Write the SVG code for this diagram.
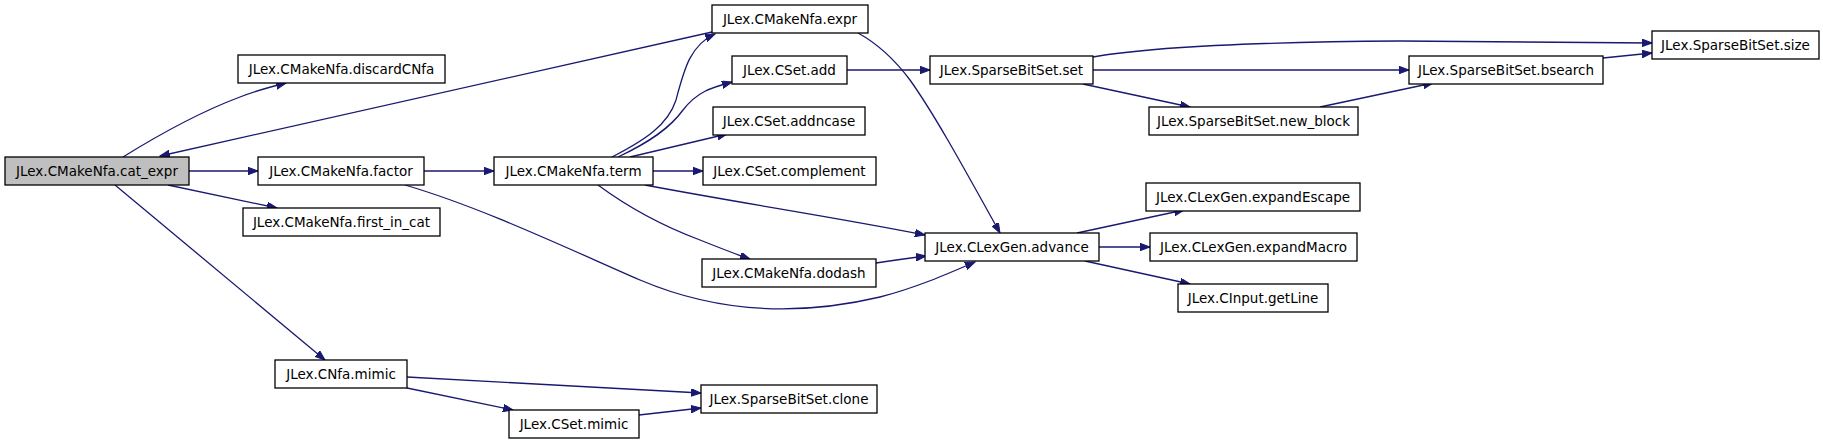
<svg xmlns="http://www.w3.org/2000/svg" width="1823" height="442" viewBox="0 0 1823 442">
<defs>
<marker id="ah" markerUnits="userSpaceOnUse" markerWidth="11" markerHeight="8" refX="10" refY="3.75" orient="auto">
<path d="M0,0 L10,3.75 L0,7.5 z" fill="#191970" stroke="#191970" stroke-width="1"/>
</marker>
</defs>
<style>
.n rect{fill:#ffffff;stroke:#000000;stroke-width:1.3}
.n text{font-family:"DejaVu Sans",sans-serif;font-size:13.5px;fill:#000000;text-anchor:middle}
#edges path{fill:none;stroke:#191970;stroke-width:1.3;marker-end:url(#ah)}
</style>
<rect width="1823" height="442" fill="#ffffff"/>
<g id="edges">
<path d="M123,157 C160,134 200,112 240,97 C255,91 270,87 286,83"/>
<path d="M712,32 L160,156"/>
<path d="M189,171 L258,171"/>
<path d="M168,185 L277,208"/>
<path d="M115,185 L325,360"/>
<path d="M424,171 L494,171"/>
<path d="M405,185 C480,207 560,245 640,280 C720,314 800,316 880,297 C915,288 945,275 975,262"/>
<path d="M612,157 C645,140 668,125 676,100 C684,70 690,45 715,34"/>
<path d="M618,157 C650,142 670,128 683,110 C697,92 710,88 732,82"/>
<path d="M630,157 L727,134"/>
<path d="M653,171 L703,171"/>
<path d="M598,185 C625,205 660,225 700,240 C720,248 735,254 750,259"/>
<path d="M645,185 C740,203 840,218 925,235"/>
<path d="M876,263 C895,260 910,258 926,256"/>
<path d="M858,33 C880,45 895,60 910,80 C935,115 965,170 1000,233"/>
<path d="M847,70 L930,70"/>
<path d="M1093,57 C1150,47 1250,42 1400,41 C1500,41 1580,42 1652,43"/>
<path d="M1093,70 L1409,70"/>
<path d="M1083,84 L1190,107"/>
<path d="M1320,107 L1433,83"/>
<path d="M1603,58 L1652,53"/>
<path d="M1077,233 L1184,210"/>
<path d="M1099,247 L1150,247"/>
<path d="M1085,261 L1190,284"/>
<path d="M407,377 L701,393"/>
<path d="M407,388 L513,410"/>
<path d="M639,415 L701,408"/>
</g>
<g id="cat_expr" class="n"><rect x="5" y="157" width="184" height="28" style="fill:#bfbfbf"/><text x="97" y="176">JLex.CMakeNfa.cat_expr</text></g>
<g id="discardCNfa" class="n"><rect x="238" y="55" width="207" height="28"/><text x="341.5" y="74">JLex.CMakeNfa.discardCNfa</text></g>
<g id="factor" class="n"><rect x="258" y="157" width="166" height="28"/><text x="341" y="176">JLex.CMakeNfa.factor</text></g>
<g id="first_in_cat" class="n"><rect x="243" y="208" width="197" height="28"/><text x="341.5" y="227">JLex.CMakeNfa.first_in_cat</text></g>
<g id="cnfa_mimic" class="n"><rect x="275" y="360" width="132" height="28"/><text x="341" y="379">JLex.CNfa.mimic</text></g>
<g id="expr" class="n"><rect x="712" y="5" width="156" height="28"/><text x="790" y="24">JLex.CMakeNfa.expr</text></g>
<g id="cset_add" class="n"><rect x="732" y="56" width="115" height="28"/><text x="789.5" y="75">JLex.CSet.add</text></g>
<g id="addncase" class="n"><rect x="713" y="107" width="152" height="28"/><text x="789" y="126">JLex.CSet.addncase</text></g>
<g id="complement" class="n"><rect x="703" y="157" width="173" height="28"/><text x="789.5" y="176">JLex.CSet.complement</text></g>
<g id="term" class="n"><rect x="494" y="157" width="159" height="28"/><text x="573.5" y="176">JLex.CMakeNfa.term</text></g>
<g id="dodash" class="n"><rect x="702" y="259" width="174" height="28"/><text x="789" y="278">JLex.CMakeNfa.dodash</text></g>
<g id="clone" class="n"><rect x="701" y="385" width="176" height="28"/><text x="789" y="404">JLex.SparseBitSet.clone</text></g>
<g id="cset_mimic" class="n"><rect x="509" y="410" width="130" height="28"/><text x="574" y="429">JLex.CSet.mimic</text></g>
<g id="set" class="n"><rect x="930" y="56" width="163" height="28"/><text x="1011.5" y="75">JLex.SparseBitSet.set</text></g>
<g id="new_block" class="n"><rect x="1149" y="107" width="209" height="28"/><text x="1253.5" y="126">JLex.SparseBitSet.new_block</text></g>
<g id="advance" class="n"><rect x="925" y="233" width="174" height="28"/><text x="1012" y="252">JLex.CLexGen.advance</text></g>
<g id="expandEscape" class="n"><rect x="1146" y="183" width="214" height="28"/><text x="1253" y="202">JLex.CLexGen.expandEscape</text></g>
<g id="expandMacro" class="n"><rect x="1150" y="233" width="207" height="28"/><text x="1253.5" y="252">JLex.CLexGen.expandMacro</text></g>
<g id="getLine" class="n"><rect x="1178" y="284" width="150" height="28"/><text x="1253" y="303">JLex.CInput.getLine</text></g>
<g id="size" class="n"><rect x="1652" y="31" width="167" height="28"/><text x="1735.5" y="50">JLex.SparseBitSet.size</text></g>
<g id="bsearch" class="n"><rect x="1409" y="56" width="194" height="28"/><text x="1506" y="75">JLex.SparseBitSet.bsearch</text></g>
</svg>
